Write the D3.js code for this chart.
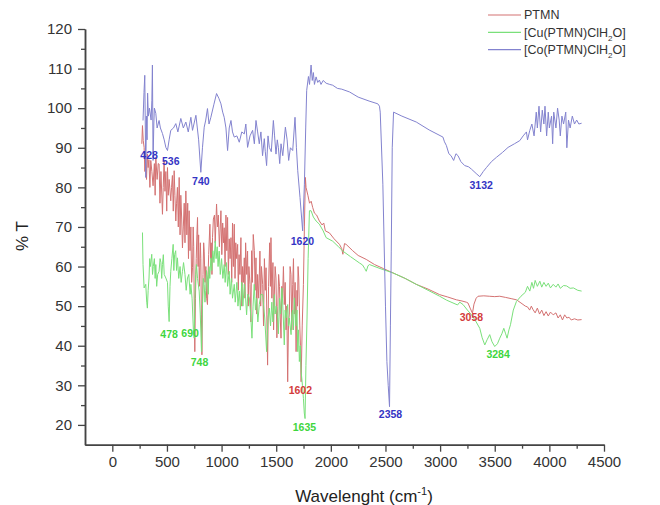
<!DOCTYPE html>
<html>
<head>
  <style>
    body { margin: 0; background: #fff; }
    text { font-family: "Liberation Sans", Arial, sans-serif; }
    .axis path, .axis line { stroke: #444; }
    .axis text { fill: #333; font-size: 15px; }
    .spec { fill: none; stroke-width: 1; stroke-linejoin: round; }
    .ann { font-size: 10.5px; font-weight: bold; text-anchor: middle; }
  </style>
</head>
<body>
  <script src="https://d3js.org/d3.v7.min.js"></script>
  <script>
    var width = 660, height = 505;
    var margin = {left: 85, top: 29, right: 56, bottom: 60};

    // spectra, [wavenumber, %T]
    var ptmn = [[270,91],[276,95.6],[283,91.8],[291,90.1],[298,84],[305,89],[313,82],[321,88.4],[328,85],[335,87],[344,80],[352,86.8],[362,84],[373,80.4],[385,86],[392,78],[398,87.6],[410,82],[420,86],[428,85.9],[436,76],[445,84],[459,73.2],[466,80],[474,86.8],[482,79],[490,84],[498,74],[505,85],[512,78],[520,82],[535,76.6],[542,80],[550,83],[558,74],[566,84.2],[573,78],[581,71.5],[588,76],[596,80],[604,70],[612,82.5],[620,68],[627,78],[635,72],[642,64.7],[650,70],[658,76],[665,66],[673,79.1],[682,68],[690,76],[697,62],[703,74.1],[711,64],[719,70],[726,56],[734,59.7],[740,70],[745,65],[750,50],[755,38.5],[761,52],[768,62],[774,68],[780,72.4],[785,60],[790,68],[796,55],[801,59.7],[806,66],[810,62],[815,48],[820,37.7],[825,50],[830,58],[836,66],[841,63.9],[848,56],[856,60],[863,52],[871,50.4],[877,58],[882,63],[893,70.7],[900,62],[905,66],[912,58],[917,67.3],[925,72],[935,73],[942,66],[954,75.8],[962,70],[970,73],[980,65],[994,74.1],[1002,63],[1010,71],[1018,66],[1024,69.8],[1032,60],[1040,73],[1048,64],[1055,72.4],[1062,58],[1070,67],[1078,62],[1086,67.3],[1093,56],[1100,71],[1108,60],[1116,70.7],[1123,57],[1130,66],[1138,62],[1147,65.6],[1153,54],[1160,63],[1168,58],[1177,67.3],[1185,50],[1192,60],[1200,56],[1208,62.2],[1214,52],[1220,66],[1230,58],[1238,63.9],[1244,50],[1250,60],[1260,55.5],[1268,46],[1275,64],[1282,56],[1290,68.1],[1300,64],[1307,54],[1315,62.2],[1322,48],[1330,58],[1340,52],[1351,63.9],[1358,50],[1365,60],[1376,55.5],[1384,45],[1392,62],[1400,54],[1407,59.7],[1414,48],[1421,35.1],[1430,55],[1440,66],[1447,55],[1452,67.3],[1460,52],[1470,61],[1476,44],[1482,52],[1490,60],[1498,57.1],[1506,42],[1515,50],[1522,58],[1530,55],[1537,47],[1544,41.9],[1551,55],[1558,52],[1566,60],[1574,50.4],[1582,56],[1590,44],[1597,50],[1605,30.9],[1612,45],[1620,48],[1627,60],[1635,58],[1643,44],[1651,55.5],[1658,62],[1665,48],[1673,56],[1682,38.5],[1690,54],[1695,50],[1700,60],[1706,57.1],[1716,45],[1722,40],[1728,30.9],[1738,45],[1749,55.5],[1758,70],[1767,82.5],[1773,80],[1790,78],[1805,76],[1820,76.5],[1834,74.9],[1850,73.5],[1870,73],[1895,71.5],[1920,70.5],[1935,71],[1950,69],[1987,68.5],[2030,67],[2079,65.6],[2100,64.5],[2110,63.1],[2125,65.8],[2140,65.6],[2200,64],[2250,62.8],[2324,61.8],[2400,60.5],[2480,59.5],[2568,58.4],[2680,57],[2782,55.5],[2890,54.3],[2996,52.9],[3070,52.3],[3149,51.6],[3200,51.3],[3240,51],[3255,50.8],[3275,49.5],[3296,48.2],[3310,50.5],[3330,52],[3347,52.5],[3400,52.6],[3450,52.5],[3500,52.4],[3546,52.5],[3600,52.2],[3650,51.9],[3699,51.6],[3740,50.8],[3780,50],[3800,49.8],[3820,49],[3835,50],[3851,49.1],[3870,48.3],[3890,49.5],[3910,48],[3930,49],[3950,47.6],[3970,48.6],[3990,47.5],[4010,48.5],[4035,47.8],[4060,48.3],[4080,47],[4100,47.8],[4120,46.5],[4140,47.8],[4160,47],[4180,47.2],[4200,46.5],[4230,46.8],[4260,46.5],[4295,46.6]];

    var cuComplex = [[276,68.6],[281,60.5],[291,54.6],[306,55.5],[315,51],[321,49.5],[328,54],[336,57.1],[342,62],[348,60],[361,63.1],[368,58],[375,60],[385,62],[392,57],[398,60.5],[406,55],[415,58],[428,58.8],[437,62],[445,61],[452,57],[459,60.5],[467,63],[475,58],[490,57.1],[505,56],[512,50],[520,46.1],[528,55],[535,58.8],[545,62],[557,65.6],[563,59],[570,63],[580,64],[588,59],[596,62.2],[608,57],[620,60],[630,56],[642,58.8],[652,61],[665,58],[676,54],[688,57.1],[700,58],[712,53],[719,55.5],[730,52],[742,44],[749,41.9],[756,52],[763,58],[770,60.5],[780,57],[795,53.8],[805,48],[816,38.5],[825,50],[833,57],[841,55.5],[848,51],[855,54],[862,59],[871,57.1],[878,53],[885,60],[892,57],[902,62.2],[910,59],[920,64],[930,61],[942,66.4],[950,62],[960,65],[968,60],[978,63.9],[988,58],[1000,62],[1012,57],[1024,60.5],[1033,56],[1045,61],[1055,55],[1070,58.8],[1078,53],[1090,57],[1100,52],[1116,55.5],[1125,51],[1140,56],[1150,50],[1162,53.8],[1172,49],[1185,56],[1195,50],[1208,55.5],[1220,52],[1229,47.8],[1240,53],[1254,52.1],[1266,48],[1278,41.9],[1288,50],[1299,55.5],[1310,49],[1320,52],[1332,46],[1345,50.4],[1360,53],[1376,52.9],[1385,50],[1395,47],[1412,38.5],[1425,47],[1437,49.5],[1448,45],[1460,51],[1470,46],[1483,52.9],[1490,48],[1500,50],[1513,47],[1520,43],[1530,52],[1540,48],[1553,54.6],[1565,47],[1574,40.2],[1582,49],[1590,47],[1605,50.4],[1612,45],[1620,47],[1636,42.8],[1643,48],[1650,49],[1658,44],[1666,52.1],[1680,45],[1690,49],[1697,38.5],[1704,44],[1712,36],[1720,40],[1728,33.5],[1740,30],[1749,26.7],[1757,23],[1764,21.6],[1772,35],[1782,47],[1792,62],[1804,74.1],[1819,74.1],[1840,72.5],[1865,71.5],[1895,70.7],[1930,69],[1957,67.3],[2017,66.4],[2070,65],[2110,63.9],[2180,62.5],[2262,60.9],[2290,60.4],[2310,59.5],[2324,58.8],[2340,60.2],[2354,60.5],[2450,59.5],[2568,58.4],[2680,57],[2782,55.5],[2890,54],[2996,52.5],[3060,51.5],[3118,50.8],[3160,50.3],[3180,51],[3210,50.4],[3250,49],[3287,47.8],[3320,46.5],[3363,44.4],[3385,42],[3409,40.2],[3430,41.5],[3454,42.8],[3475,41],[3500,39.8],[3525,40.5],[3546,41.9],[3565,43],[3583,44.4],[3600,43],[3613,41.9],[3630,44],[3644,45.3],[3670,49],[3699,51.2],[3740,52.5],[3780,53.5],[3800,55],[3821,53.8],[3840,56],[3855,54.5],[3870,56.5],[3890,55],[3913,56.3],[3930,54.8],[3950,56],[3970,55],[3990,55.8],[4010,54.6],[4035,55.5],[4060,54.8],[4080,55.6],[4100,54.5],[4130,55.2],[4158,55.1],[4190,54.5],[4220,54.6],[4260,54],[4295,53.8]];

    var coComplex = [[281,96.9],[290,104],[297,108.3],[302,95],[306,82.5],[312,98],[318,92],[323,103.8],[330,98],[340,100],[355,97],[362,102],[367,110.9],[373,86.8],[380,96],[385,100],[398,98.7],[410,95],[428,96.9],[440,95],[459,93.6],[475,92],[490,90.1],[505,89.3],[520,92],[535,94.4],[560,95],[581,96.1],[600,94],[627,97.4],[650,95],[673,96.5],[695,94],[719,97.7],[734,94.4],[765,98.2],[778,95],[790,92],[810,83.8],[825,90],[841,95.2],[855,97],[871,99.9],[885,96],[902,97.7],[930,101],[954,103.7],[975,102.5],[994,101.1],[1010,99],[1024,97.7],[1040,95],[1055,89.3],[1070,95],[1086,96.9],[1100,94],[1116,92.7],[1140,93],[1162,91.4],[1185,94],[1208,93.5],[1222,96],[1238,90.1],[1260,93],[1284,94.4],[1300,91],[1315,96.9],[1330,94],[1345,91],[1360,94],[1375,88],[1391,92.3],[1400,89],[1412,85.5],[1425,93],[1437,90.1],[1455,89],[1474,96.9],[1485,93],[1498,88.4],[1510,92],[1520,90],[1532,86],[1544,91],[1560,88],[1584,95.2],[1600,92],[1614,86.8],[1630,90],[1651,89.3],[1672,97.7],[1685,90],[1697,84.2],[1718,77.4],[1742,69],[1758,80.8],[1770,95],[1779,104.5],[1795,108],[1805,106],[1819,110.9],[1830,107],[1840,109],[1850,106],[1865,107.9],[1880,106.5],[1895,107.1],[1910,106],[1930,107],[1957,106.3],[1990,106],[2017,105.8],[2060,105],[2100,104.8],[2171,104.1],[2250,102.8],[2350,101.8],[2430,101.1],[2445,100.5],[2452,99],[2476,80.8],[2500,50],[2513,36],[2525,30],[2537,24.6],[2545,45],[2553,63.9],[2562,90],[2574,99],[2650,98],[2782,96.5],[2900,94.5],[3026,92.7],[3040,91.5],[3057,90.6],[3080,88.5],[3100,88],[3124,86.8],[3145,88.5],[3164,88],[3190,86.5],[3225,85.5],[3260,85.2],[3287,84.6],[3330,83.5],[3363,82.7],[3395,84],[3424,85],[3470,86.5],[3516,87.6],[3570,88.8],[3622,90.1],[3680,91],[3729,91.8],[3760,93],[3790,94],[3800,92],[3821,94.4],[3840,96],[3860,93],[3880,99],[3890,95],[3905,100.5],[3920,94],[3935,99.5],[3950,96],[3960,100.5],[3975,93],[3990,99],[4000,95],[4020,98],[4030,91],[4040,99],[4060,95],[4075,100],[4090,97],[4100,93],[4115,98],[4130,96],[4150,99],[4160,90],[4175,97],[4190,95],[4210,98],[4230,96],[4250,97],[4270,96],[4295,96.2]];

    var seriesNames = ["PTMN", "[Cu(PTMN)ClH2O]", "[Co(PTMN)ClH2O]"];
    var seriesColors = ["#d47272", "#7ae07a", "#8383cf"];
    var labelColors = ["#d33c3c", "#3ed63e", "#3434c4"];

    // peak labels: [text, wavenumber, %T, series index]
    var peakLabels = [
      ["428", 337, 88.0, 2], ["536", 535, 86.6, 2], ["740", 810, 81.5, 2],
      ["1620", 1740, 66.4, 2], ["2358", 2546, 22.6, 2], ["3132", 3376, 80.5, 2],
      ["478", 520, 42.8, 1], ["690", 712, 43.2, 1], ["748", 798, 35.7, 1],
      ["1635", 1758, 19.5, 1], ["3284", 3531, 37.8, 1],
      ["1602", 1721, 28.8, 0], ["3058", 3287, 47.2, 0]
    ];

    var xTicks = d3.range(0, 4501, 500);
    var xMinor = d3.range(250, 4500, 500);
    var yTicks = d3.range(20, 121, 10);
    var yMinor = d3.range(25, 120, 10);

    var svg = d3.select("body").append("svg")
        .attr("width", width)
        .attr("height", height);

    svg.append("rect").attr("width", width).attr("height", height).attr("fill", "#fff");

    var x = d3.scaleLinear().domain([-250, 4500]).range([margin.left, width - margin.right]);
    var y = d3.scaleLinear().domain([15, 120]).range([444.7, margin.top]);

    var line = d3.line().x(d => x(d[0])).y(d => y(d[1]));

    [ptmn, cuComplex, coComplex].forEach(function(s, i){
      svg.append("path")
          .attr("class", "spec")
          .attr("d", line(s))
          .attr("stroke", seriesColors[i]);
    });

    // axes
    svg.append("g").attr("class", "axis")
        .attr("transform", "translate(" + margin.left + ",0)")
        .call(d3.axisLeft(y).tickValues(yTicks).tickSize(7).tickPadding(6).tickSizeOuter(0).tickFormat(d3.format("d")));
    svg.append("g").attr("class", "axis")
        .attr("transform", "translate(" + margin.left + ",0)")
        .call(d3.axisLeft(y).tickValues(yMinor).tickSize(4).tickFormat("").tickSizeOuter(0));

    svg.append("g").attr("class", "axis")
        .attr("transform", "translate(0," + y(15) + ")")
        .call(d3.axisBottom(x).tickValues(xTicks).tickSize(7).tickPadding(5).tickSizeOuter(0).tickFormat(d3.format("d")));
    svg.append("g").attr("class", "axis")
        .attr("transform", "translate(0," + y(15) + ")")
        .call(d3.axisBottom(x).tickValues(xMinor).tickSize(4).tickFormat("").tickSizeOuter(0));

    svg.selectAll(".axis path").attr("stroke-width", 1.5);
    svg.selectAll(".axis line").attr("stroke-width", 1.3);

    // peak labels
    svg.selectAll("text.ann")
        .data(peakLabels)
      .enter().append("text")
        .attr("class", "ann")
        .attr("x", d => x(d[1]))
        .attr("y", d => y(d[2]))
        .attr("dy", "0.35em")
        .attr("fill", d => labelColors[d[3]])
        .text(d => d[0]);

    // axis titles
    svg.append("text")
        .attr("transform", "translate(28,236) rotate(-90)")
        .attr("text-anchor", "middle")
        .attr("font-size", 17)
        .attr("fill", "#222")
        .text("% T");

    var xt = svg.append("text")
        .attr("x", 364).attr("y", 502)
        .attr("text-anchor", "middle")
        .attr("font-size", 17)
        .attr("fill", "#222");
    xt.append("tspan").text("Wavelenght (cm");
    xt.append("tspan").attr("dy", -7).attr("font-size", 11).text("-1");
    xt.append("tspan").attr("dy", 7).text(")");

    // legend
    var legend = svg.append("g").attr("transform", "translate(488,15)");
    seriesNames.forEach(function(name, i){
      var g = legend.append("g").attr("transform", "translate(0," + (i * 17.3) + ")");
      g.append("line").attr("x1", 0).attr("x2", 33).attr("stroke", seriesColors[i]).attr("stroke-width", 1.2);
      var t = g.append("text").attr("x", 36).attr("dy", "0.35em").attr("font-size", 12.5).attr("fill", "#333");
      var m = name.match(/^(.*H)2(O\])$/);
      if (m) {
        t.append("tspan").text(m[1]);
        t.append("tspan").attr("dy", 4).attr("font-size", 8).text("2");
        t.append("tspan").attr("dy", -4).text(m[2]);
      } else {
        t.text(name);
      }
    });
  </script>
</body>
</html>
